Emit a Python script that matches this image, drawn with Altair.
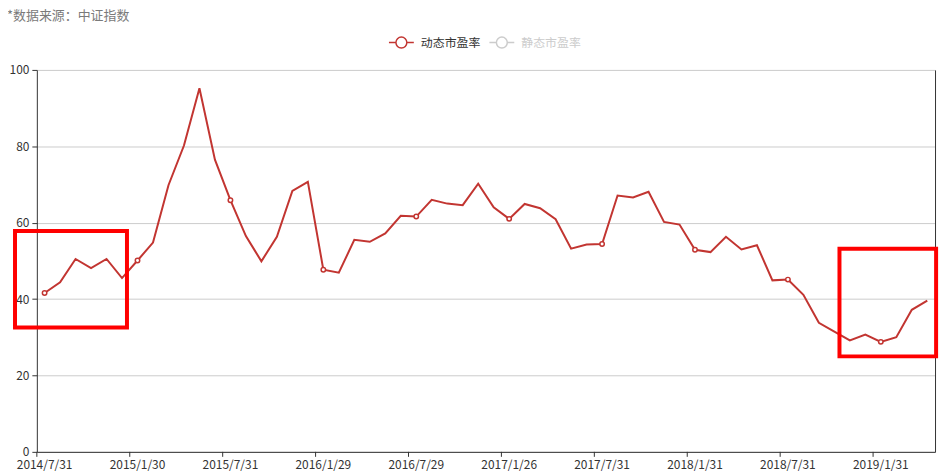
import altair as alt
import pandas as pd

dates = [
    "2014/7/31", "2014/8/29", "2014/9/30", "2014/10/31", "2014/11/28", "2014/12/31",
    "2015/1/30", "2015/2/27", "2015/3/31", "2015/4/30", "2015/5/29", "2015/6/30",
    "2015/7/31", "2015/8/31", "2015/9/30", "2015/10/30", "2015/11/30", "2015/12/31",
    "2016/1/29", "2016/2/29", "2016/3/31", "2016/4/29", "2016/5/31", "2016/6/30",
    "2016/7/29", "2016/8/31", "2016/9/30", "2016/10/31", "2016/11/30", "2016/12/30",
    "2017/1/26", "2017/2/28", "2017/3/31", "2017/4/28", "2017/5/31", "2017/6/30",
    "2017/7/31", "2017/8/31", "2017/9/29", "2017/10/31", "2017/11/30", "2017/12/29",
    "2018/1/31", "2018/2/28", "2018/3/30", "2018/4/27", "2018/5/31", "2018/6/29",
    "2018/7/31", "2018/8/31", "2018/9/28", "2018/10/31", "2018/11/30", "2018/12/28",
    "2019/1/31", "2019/2/28", "2019/3/29", "2019/4/30",
]
pe_dynamic = [
    41.6, 44.4, 50.5, 48.1, 50.5, 45.5,
    50.1, 54.8, 69.8, 80.2, 95.2, 76.5,
    65.9, 56.5, 49.9, 56.3, 68.3, 70.7,
    47.7, 46.9, 55.5, 55.0, 57.2, 61.8,
    61.6, 66.0, 65.0, 64.6, 70.2, 64.0,
    61.0, 64.9, 63.8, 60.9, 53.2, 54.3,
    54.4, 67.1, 66.6, 68.1, 60.2, 59.5,
    52.9, 52.3, 56.3, 53.0, 54.1, 44.9,
    45.1, 41.1, 33.8, 31.5, 29.2, 30.7,
    28.8, 30.0, 37.2, 39.6,
]
legend_names = ["动态市盈率", "静态市盈率"]
series_colors = ["#c23531", "#cccccc"]
tick_labels = dates[::6]
y_ticks = [0, 20, 40, 60, 80, 100]
source_note = ["*数据来源：中证指数"]

# highlight boxes (x in band units from the left edge, y in value units)
box_x0 = [-1.41, 51.83]
box_x1 = [5.82, 58.07]
box_y0 = [32.55, 25.0]
box_y1 = [57.8, 53.2]

FONT = "Noto Sans CJK SC"
W, H = 903, 384

df = pd.DataFrame({
    "date": dates,
    "value": pe_dynamic,
    "series": [legend_names[0]] * len(dates),
    "idx": list(range(len(dates))),
})
ticks_df = pd.DataFrame({"date": tick_labels})
boxes = pd.DataFrame({"x0": box_x0, "x1": box_x1, "y0": box_y0, "y1": box_y1})
note_df = pd.DataFrame({"t": source_note})

x_enc = alt.X(
    "date:N", sort=dates,
    scale=alt.Scale(paddingInner=0, paddingOuter=0),
    axis=alt.Axis(
        values=tick_labels, title=None, ticks=False,
        labelAngle=0, domainColor="#333333",
        labelColor="#333333", labelFontSize=12, labelFont=FONT, labelPadding=8,
        labelOverlap=False, grid=False,
    ),
)
y_enc = alt.Y(
    "value:Q",
    scale=alt.Scale(domain=[0, 100], nice=False),
    axis=alt.Axis(
        values=y_ticks, title=None, grid=True, gridColor="#cccccc",
        tickSize=5, domainColor="#333333", tickColor="#333333",
        labelColor="#333333", labelFontSize=12, labelFont=FONT, labelPadding=3,
    ),
)

legend_path = (
    "M-1,0L-0.44,0M0.44,0L1,0"
    "M0.44,0A0.44,0.44,0,1,1,-0.44,0A0.44,0.44,0,1,1,0.44,0"
)

color_enc = alt.Color(
    "series:N",
    scale=alt.Scale(domain=legend_names, range=series_colors),
    legend=alt.Legend(
        orient="none", legendX=353, legendY=-41, direction="horizontal",
        title=None, symbolType=legend_path, symbolSize=625,
        symbolStrokeWidth=1.5, symbolFillColor="#ffffff",
        labelFont=FONT, labelFontSize=12,
        labelColor={"expr": "datum.label == '静态市盈率' ? '#cccccc' : '#333333'"},
        columnPadding=5, labelOffset=6, padding=0,
    ),
)

base = alt.Chart(df).encode(x=x_enc, y=y_enc)
line = base.mark_line(strokeWidth=2).encode(color=color_enc)
points = base.transform_filter("datum.idx % 6 == 0").mark_point(
    shape="circle", filled=True, fill="#ffffff", stroke="#c23531",
    strokeWidth=1.5, size=20, opacity=1,
)
# x-axis ticks at the band boundaries (ECharts style)
xticks = alt.Chart(ticks_df).mark_rule(color="#333333", strokeWidth=1).encode(
    x=alt.X("date:N", sort=dates, bandPosition=0),
    y=alt.value(H), y2=alt.value(H + 5),
)
main = alt.layer(line, points, xticks)

box_layer = alt.Chart(boxes).mark_rect(
    fillOpacity=0, stroke="#ff0000", strokeWidth=4, clip=False
).encode(
    x=alt.X("x0:Q", scale=alt.Scale(domain=[0, 58], nice=False, zero=False), axis=None),
    x2="x1:Q",
    y=alt.Y("y0:Q", scale=alt.Scale(domain=[0, 100], nice=False),
            axis=alt.Axis(orient="right", labels=False, ticks=False, grid=False,
                          domainColor="#333333", title=None)),
    y2="y1:Q",
)

note = alt.Chart(note_df).mark_text(
    align="left", baseline="middle", fontSize=13, color="#7a7a7a", font=FONT
).encode(x=alt.value(-30), y=alt.value(-54.5), text="t:N")

chart = alt.layer(main, box_layer, note).resolve_scale(
    x="independent", y="independent"
).properties(
    width=W, height=H,
    autosize=alt.AutoSizeParams(type="none"),
    padding={"left": 29, "top": 61, "right": 4, "bottom": 18},
).configure_view(stroke=None)

chart.save("out.html", embed_options={"renderer": "svg", "actions": False})
